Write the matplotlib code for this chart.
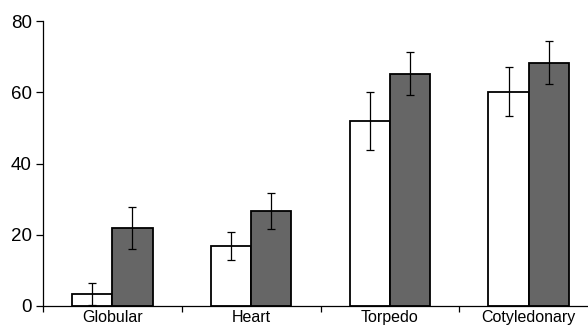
import numpy as np
import matplotlib
matplotlib.use('Agg')
import matplotlib.pyplot as plt

# Values
stages = ['Globular', 'Heart', 'Torpedo', 'Cotyledonary']
white_vals = [3.4, 16.8, 51.9, 60.2]
white_err = [3.0, 4.0, 8.2, 7.0]
gray_vals = [21.9, 26.7, 65.2, 68.3]
gray_err = [5.9, 5.0, 6.0, 6.1]

plt.rcParams['font.family'] = ['Liberation Sans', 'DejaVu Sans']

fig = plt.figure(figsize=(5.88, 3.29), dpi=100)
ax = fig.add_axes([43/588, 23/329, 555/588, 285/329])

x = np.arange(len(stages))
w = 0.29
ekw = dict(ecolor='black', elinewidth=0.9, capsize=3, capthick=0.9)
ax.bar(x - w/2, white_vals, w, color='white', edgecolor='black', linewidth=1.3,
       yerr=white_err, error_kw=ekw, zorder=2)
ax.bar(x + w/2, gray_vals, w, color='#666666', edgecolor='black', linewidth=1.3,
       yerr=gray_err, error_kw=ekw, zorder=2)

ax.set_xlim(-0.5, 3.5)
ax.set_ylim(0, 80)
ax.set_yticks([0, 20, 40, 60, 80])
ax.tick_params(axis='y', labelsize=13.5, length=5, width=0.9, direction='out', pad=3)

# category separators as major ticks, names as minor ticks
ax.set_xticks([-0.5, 0.5, 1.5, 2.5, 3.5])
ax.set_xticklabels([])
ax.set_xticks(x, minor=True)
ax.set_xticklabels(stages, minor=True)
ax.tick_params(axis='x', which='major', length=4, width=0.9, direction='out')
ax.tick_params(axis='x', which='minor', length=0, labelsize=11.5, pad=3)

for s in ['top', 'right']:
    ax.spines[s].set_visible(False)
for s in ['left', 'bottom']:
    ax.spines[s].set_linewidth(0.9)

fig.savefig('out.png', dpi=100)
